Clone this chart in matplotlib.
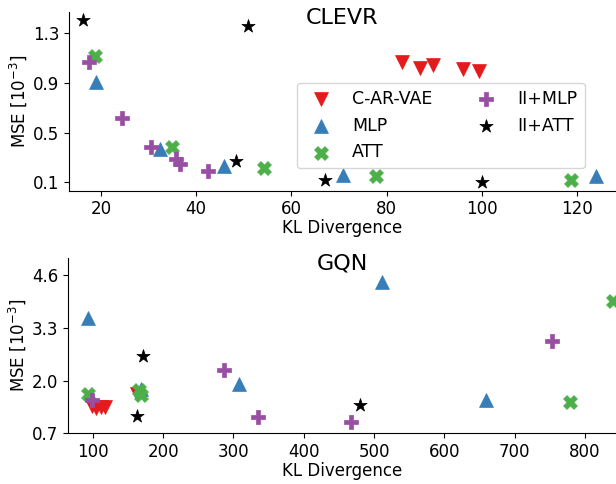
import matplotlib
matplotlib.use("Agg")
import matplotlib.pyplot as plt

# ---------------- data ----------------
series = ["C-AR-VAE", "MLP", "ATT", "II+MLP", "II+ATT"]
colors = ["#e41a1c", "#377eb8", "#4daf4a", "#984ea3", "black"]
markers = ["v", "^", "X", "P", "*"]

# CLEVR
clevr_carvae_x = [83.2, 87.1, 89.7, 96.0, 99.4]
clevr_carvae_y = [1.066, 1.022, 1.045, 1.015, 0.995]
clevr_mlp_x = [18.9, 32.4, 45.8, 70.9, 124.0]
clevr_mlp_y = [0.911, 0.368, 0.232, 0.159, 0.151]
clevr_att_x = [18.8, 34.9, 54.3, 77.7, 118.8]
clevr_att_y = [1.114, 0.382, 0.213, 0.154, 0.119]
clevr_iimlp_x = [17.5, 24.4, 30.5, 35.7, 36.6, 42.6]
clevr_iimlp_y = [1.072, 0.615, 0.386, 0.285, 0.248, 0.19]
clevr_iiatt_x = [16.3, 50.9, 48.4, 67.0, 100.0]
clevr_iiatt_y = [1.41, 1.355, 0.272, 0.119, 0.105]

# GQN
gqn_carvae_x = [99, 105, 111, 117, 163]
gqn_carvae_y = [1.37, 1.33, 1.35, 1.34, 1.66]
gqn_mlp_x = [93.8, 168, 307.4, 510.9, 659.3]
gqn_mlp_y = [3.55, 1.78, 1.91, 4.44, 1.51]
gqn_att_x = [93.5, 166, 168, 779, 840]
gqn_att_y = [1.67, 1.76, 1.64, 1.46, 3.96]
gqn_iimlp_x = [98.3, 287.2, 334.4, 467.1, 753.2]
gqn_iimlp_y = [1.52, 2.25, 1.095, 0.974, 2.99]
gqn_iiatt_x = [171.0, 162.5, 480.6]
gqn_iiatt_y = [2.61, 1.135, 1.40]

clevr_data = [(clevr_carvae_x, clevr_carvae_y), (clevr_mlp_x, clevr_mlp_y),
              (clevr_att_x, clevr_att_y), (clevr_iimlp_x, clevr_iimlp_y),
              (clevr_iiatt_x, clevr_iiatt_y)]
gqn_data = [(gqn_carvae_x, gqn_carvae_y), (gqn_mlp_x, gqn_mlp_y),
            (gqn_att_x, gqn_att_y), (gqn_iimlp_x, gqn_iimlp_y),
            (gqn_iiatt_x, gqn_iiatt_y)]

clevr_yticks = [0.1, 0.5, 0.9, 1.3]
gqn_yticks = [0.7, 2.0, 3.3, 4.6]
clevr_xticks = [20, 40, 60, 80, 100, 120]
gqn_xticks = [100, 200, 300, 400, 500, 600, 700, 800]

# ---------------- figure ----------------
fig = plt.figure(figsize=(6.16, 4.84), dpi=100)
ax1 = fig.add_axes([0.112, 0.606, 0.888, 0.369])
ax2 = fig.add_axes([0.110, 0.105, 0.890, 0.362])

FS = 12
for ax, data, title in [(ax1, clevr_data, "CLEVR"), (ax2, gqn_data, "GQN")]:
    for (xs, ys), name, c, m in zip(data, series, colors, markers):
        ax.scatter(xs, ys, s=100, c=c, marker=m, label=name, linewidths=0.5)
    ax.spines["top"].set_visible(False)
    ax.spines["right"].set_visible(False)
    ax.set_xlabel("KL Divergence", fontsize=FS, labelpad=0.5)
    ax.set_ylabel(r"MSE [$10^{-3}$]", fontsize=FS, labelpad=2.5)
    ax.tick_params(labelsize=FS)
    ax.text(0.5, 0.935, title, transform=ax.transAxes, ha="center",
            va="baseline", fontsize=16)

ax1.set_xlim(13.3, 128.2)
ax1.set_ylim(0.033, 1.47)
ax1.set_yticks(clevr_yticks)
ax1.set_yticklabels([f"{v:.1f}" for v in clevr_yticks])
ax1.set_xticks(clevr_xticks)

ax2.set_xlim(64.4, 844)
ax2.set_ylim(0.7, 5.03)
ax2.set_yticks(gqn_yticks)
ax2.set_yticklabels([f"{v:.1f}" for v in gqn_yticks])
ax2.set_xticks(gqn_xticks)

ax1.legend(ncol=2, fontsize=12.5, loc="upper left", columnspacing=2.1,
           bbox_to_anchor=(0.416, 0.603), borderaxespad=0)

fig.savefig("out.png", dpi=100)
